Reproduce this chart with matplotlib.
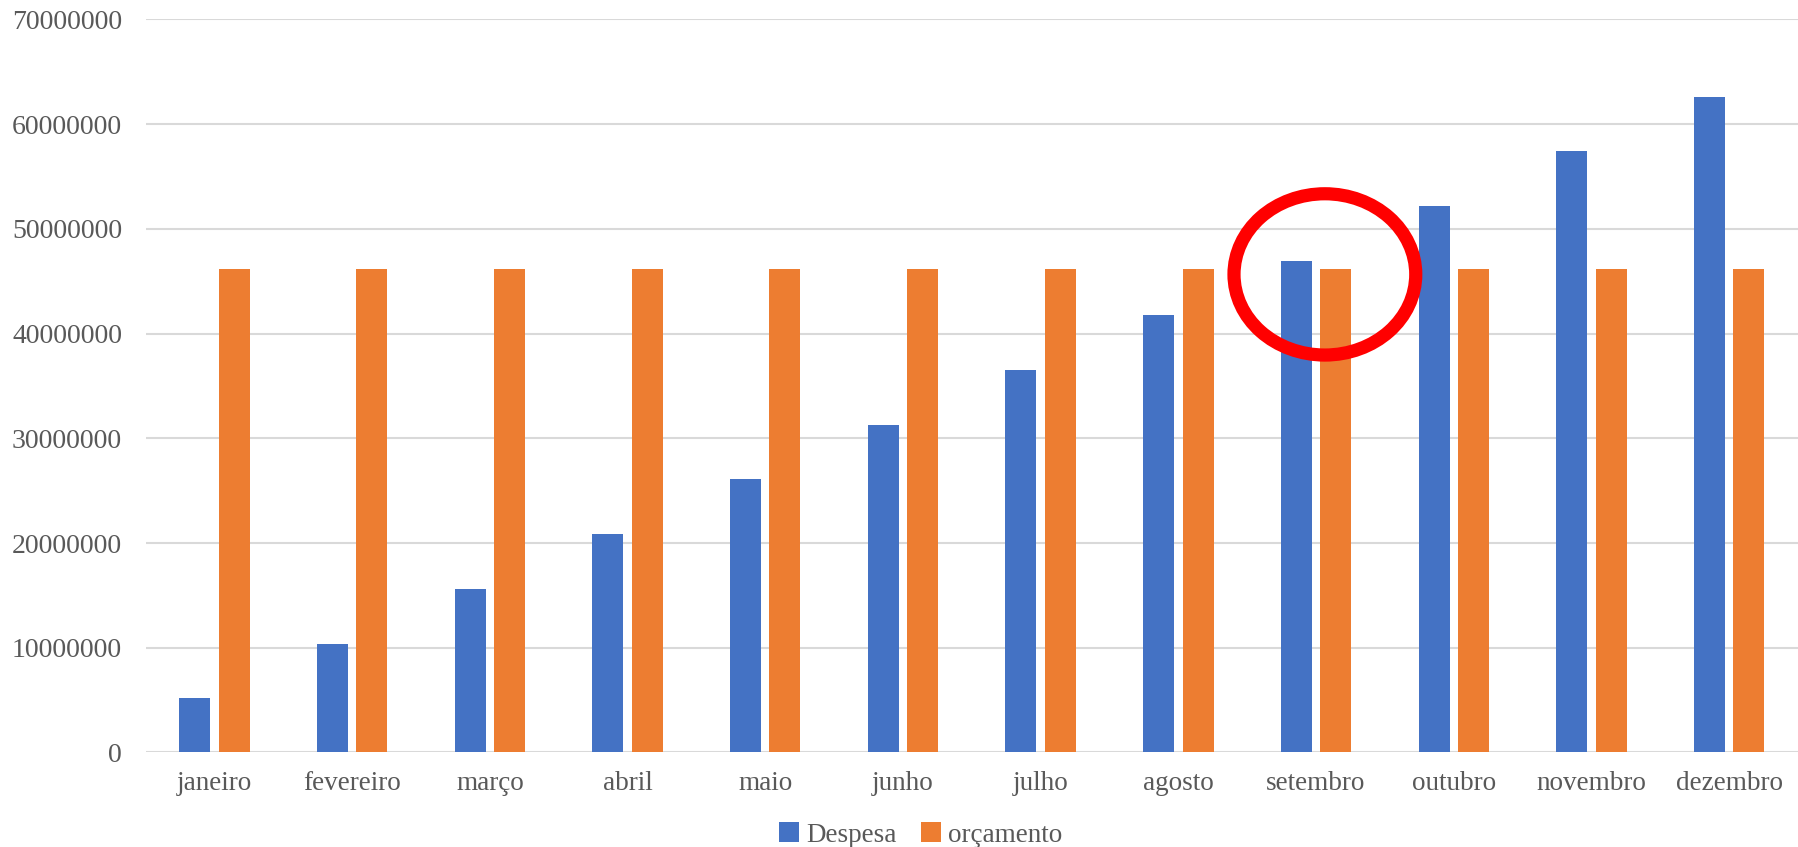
import numpy as np
import matplotlib
matplotlib.use("Agg")
import matplotlib.pyplot as plt
from matplotlib.patches import Ellipse

meses = ["janeiro", "fevereiro", "março", "abril", "maio", "junho",
         "julho", "agosto", "setembro", "outubro", "novembro", "dezembro"]
despesa = [5200000, 10400000, 15600000, 20900000, 26100000, 31300000,
           36500000, 41800000, 46900000, 52200000, 57400000, 62600000]
orcamento = [46200000] * 12
yticks = [0, 10000000, 20000000, 30000000, 40000000, 50000000, 60000000, 70000000]

def main():
    plt.rcParams['font.family'] = ['Liberation Serif', 'DejaVu Serif']
    cinza = '#595959'

    fig = plt.figure(figsize=(17.98, 8.47), dpi=100)
    ax = fig.add_axes([0.081, 0.1116, 0.919, 0.8655])

    x = np.arange(len(meses))
    w = 0.225
    ax.bar(x - 0.143, despesa, w, color='#4472C4', label='Despesa', zorder=3)
    ax.bar(x + 0.143, orcamento, w, color='#ED7D31', label='orçamento', zorder=3)

    ax.set_xlim(-0.5, len(meses) - 0.5)
    ax.set_ylim(0, 70000000)
    ax.set_yticks(yticks)
    ax.set_yticklabels([str(v) for v in yticks])
    ax.set_xticks(x)
    ax.set_xticklabels(meses)
    ax.tick_params(axis='both', length=0, labelcolor=cinza)
    ax.tick_params(axis='y', pad=17, labelsize=20)
    ax.tick_params(axis='x', pad=13, labelsize=19.5)

    ax.grid(axis='y', color='#D9D9D9', linewidth=1.5, zorder=0)
    for s in ax.spines.values():
        s.set_visible(False)

    # circulo vermelho em setembro
    circ = Ellipse((8.064, 45650000), 1.32, 15400000, fill=False,
                   edgecolor='#FF0000', linewidth=9.5, zorder=5, clip_on=False)
    ax.add_patch(circ)

    leg = fig.legend(loc='center', bbox_to_anchor=(0.512, 0.014), ncol=2,
                     frameon=False, fontsize=19.5, handlelength=0.75,
                     handleheight=0.75, handletextpad=0.25, columnspacing=0.9)
    for t in leg.get_texts():
        t.set_color(cinza)

    fig.savefig('out.png', dpi=100)


if __name__ == "__main__":
    main()
